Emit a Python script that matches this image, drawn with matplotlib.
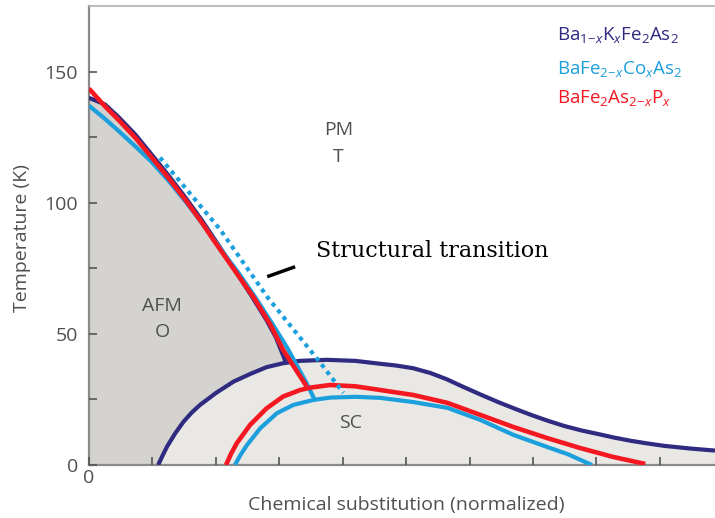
import matplotlib
matplotlib.use('Agg')
import matplotlib.pyplot as plt

plt.rcParams['font.family'] = ['Open Sans', 'DejaVu Sans']
plt.rcParams['mathtext.fontset'] = 'custom'
plt.rcParams['mathtext.rm'] = 'Open Sans'
plt.rcParams['mathtext.it'] = 'Open Sans:italic'
plt.rcParams['mathtext.default'] = 'regular'

# Ba(1-x)K(x)Fe2As2 : AFM line and SC dome
k_afm_x = [0.0, 0.25, 0.46, 0.73, 0.99, 1.25, 1.52, 1.78, 1.96, 2.3, 2.57, 2.8, 2.95, 3.1]
k_afm_t = [140, 137.5, 132.8, 126, 118.3, 110.5, 102, 93.3, 86.8, 74.3, 64.2, 55.2, 48.5,
           39.4]
k_sc_x = [1.09, 1.16, 1.23, 1.36, 1.49, 1.62, 1.75, 2.01, 2.28, 2.54, 2.80, 3.06, 3.32,
          3.75, 4.2, 4.59, 4.85, 5.11, 5.38, 5.64, 5.90, 6.17, 6.45, 6.71, 6.97, 7.23,
          7.49, 7.76, 8.03, 8.29, 8.55, 8.81, 9.07, 9.47, 9.87]
k_sc_t = [0.0, 3.6, 7.0, 12.1, 16.5, 20.0, 22.9, 27.6, 31.8, 34.7, 37.3, 38.8, 39.7, 40.1,
          39.7, 38.6, 37.9, 36.9, 35.1, 32.7, 29.8, 26.9, 24.0, 21.5, 19.1, 16.9, 14.9,
          13.2, 11.8, 10.4, 9.2, 8.2, 7.3, 6.3, 5.5]

# BaFe(2-x)Co(x)As2
co_afm_x = [0.0, 0.25, 0.46, 0.73, 0.99, 1.25, 1.52, 1.78, 2.07, 2.35, 2.62, 2.9, 3.13,
            3.43, 3.56]
co_afm_t = [137, 132, 127.5, 121.5, 115.5, 108.5, 100.5, 92.3, 82.5, 73.5, 64, 53.5,
            44.5, 31.2, 24.8]
co_sc_x = [2.30, 2.39, 2.49, 2.70, 2.96, 3.22, 3.54, 3.80, 4.2, 4.59, 5.11, 5.65, 6.17,
           6.69, 7.22, 7.54, 7.93]
co_sc_t = [0.0, 3.9, 7.6, 14.0, 19.7, 22.9, 24.8, 25.7, 26.0, 25.6, 24.0, 21.8, 17.2,
           11.5, 6.9, 4.2, 0.0]

# BaFe2As(2-x)P(x)
p_afm_x = [0.0, 0.25, 0.46, 0.73, 0.99, 1.25, 1.52, 1.78, 1.96, 2.3, 2.59, 2.86, 3.06,
           3.43]
p_afm_t = [143.5, 136.8, 131.7, 124.8, 117.2, 109.5, 101.1, 92.4, 85.9, 74.1, 64.1,
           53.5, 43.9, 30.0]
p_sc_x = [2.16, 2.24, 2.33, 2.54, 2.80, 3.06, 3.33, 3.49, 3.80, 4.2, 4.59, 5.11, 5.65,
          6.17, 6.69, 7.22, 7.74, 8.26, 8.77]
p_sc_t = [0.0, 4.3, 8.3, 15.3, 21.6, 26.1, 28.6, 29.5, 30.5, 30.0, 28.6, 26.7, 23.7,
          19.1, 14.5, 10.3, 6.5, 3.1, 0.4]

# structural transition (dotted)
st_x = [1.12, 2.07, 2.81, 3.65, 4.01]
st_t = [117.2, 89.7, 64.1, 38.9, 27.5]

legend_labels = [r'Ba$_{1\!-\!\mathit{x}}$K$_{\mathit{x}}$Fe$_2$As$_2$',
                 r'BaFe$_{2\!-\!\mathit{x}}$Co$_{\mathit{x}}$As$_2$',
                 r'BaFe$_2$As$_{2\!-\!\mathit{x}}$P$_{\mathit{x}}$']

c_k = '#2e2b80'
c_co = '#1b9fdd'
c_p = '#f51820'
grey_txt = '#505050'

fig = plt.figure(figsize=(7.15, 5.18), dpi=100)
ax = fig.add_axes([89 / 715, 1 - 465 / 518, 626 / 715, 459 / 518])
ax.set_axisbelow(False)

# shaded phases
ax.fill_between(k_afm_x + [3.6], k_afm_t + [0], 0, color='#d4d3cf', lw=0, zorder=1)
ax.fill_between(k_sc_x, k_sc_t, 0, color='#e9e8e5', lw=0, zorder=2)

lkw = dict(solid_capstyle='butt', solid_joinstyle='round')
ax.plot(k_afm_x, k_afm_t, color=c_k, lw=3, zorder=3, **lkw)
ax.plot(k_sc_x, k_sc_t, color=c_k, lw=3, zorder=3, **lkw)
ax.plot(co_afm_x, co_afm_t, color=c_co, lw=3, zorder=4, **lkw)
ax.plot(co_sc_x, co_sc_t, color=c_co, lw=3, zorder=4, **lkw)
ax.plot(p_afm_x, p_afm_t, color=c_p, lw=3.3, zorder=5, **lkw)
ax.plot(p_sc_x, p_sc_t, color=c_p, lw=3.3, zorder=5, **lkw)
ax.plot(st_x, st_t, color=c_co, lw=3, linestyle=(0, (1, 1.1)), dash_capstyle='butt', zorder=6)

# annotation pointer
ax.plot([2.81, 3.25], [71.8, 75.6], color='black', lw=2.5, solid_capstyle='butt', zorder=7)
ax.text(3.58, 81.7, 'Structural transition', family='DejaVu Serif', fontsize=16,
        color='black', ha='left', va='center', zorder=7)

ax.text(3.93, 127.9, 'PM', ha='center', va='center', fontsize=14, color=grey_txt, zorder=7)
ax.text(3.93, 117.6, 'T', ha='center', va='center', fontsize=14, color=grey_txt, zorder=7)
ax.text(1.15, 60.7, 'AFM', ha='center', va='center', fontsize=14, color=grey_txt, zorder=7)
ax.text(1.15, 50.8, 'O', ha='center', va='center', fontsize=14, color=grey_txt, zorder=7)
ax.text(4.13, 16, 'SC', ha='center', va='center', fontsize=14, color=grey_txt, zorder=7)

for lab, col, yy in zip(legend_labels, [c_k, c_co, c_p], [164, 150.8, 140]):
    ax.text(7.38, yy, lab, color=col, fontsize=13.5, ha='left', va='center', zorder=7)

ax.set_xlim(0, 9.87)
ax.set_ylim(0, 175)
ax.set_xticks(range(0, 10))
ax.set_xticklabels(['0'] + [''] * 9)
ax.set_yticks([0, 50, 100, 150])
ax.set_yticks([25, 75, 125], minor=True)
ax.tick_params(axis='both', which='both', direction='in', length=6, width=1.2,
               color='#555555', labelsize=14, labelcolor=grey_txt)
ax.tick_params(axis='y', pad=8)
ax.tick_params(axis='x', pad=3)

for s in ['left', 'bottom']:
    ax.spines[s].set_color('#8a8a8a')
    ax.spines[s].set_linewidth(1.6)
ax.spines['top'].set_color('#b0b0b0')
ax.spines['top'].set_linewidth(1.2)
ax.spines['right'].set_visible(False)

fig.text(22 / 715, 1 - 238 / 518, 'Temperature (K)', rotation=90, ha='center', va='center',
         fontsize=14, color=grey_txt)
fig.text(406 / 715, 1 - 505 / 518, 'Chemical substitution (normalized)', ha='center',
         va='center', fontsize=14, color=grey_txt)

fig.savefig('out.png', dpi=100)
